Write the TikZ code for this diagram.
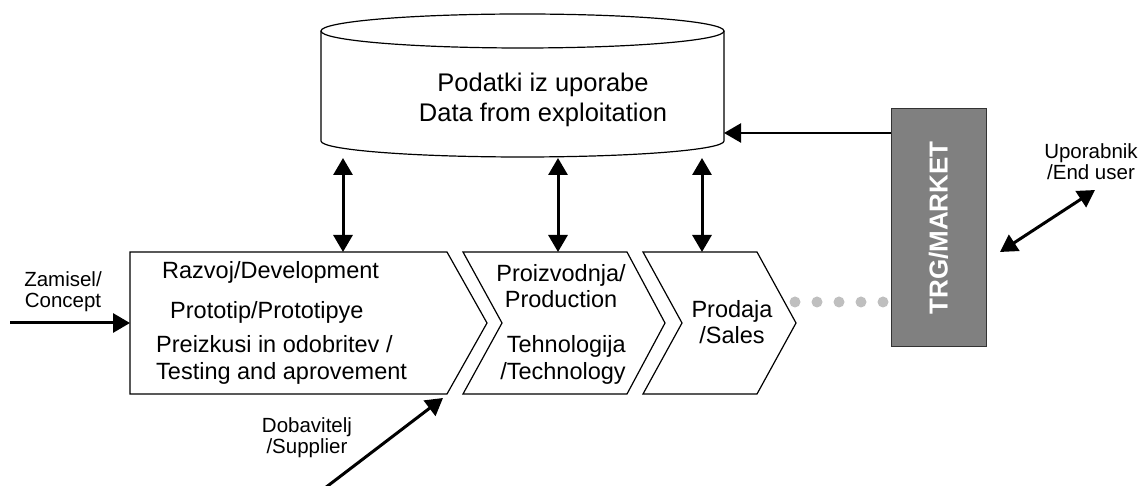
\documentclass[tikz,border=0pt]{standalone}
\usepackage{fontspec}
\setmainfont{Liberation Sans}
\usetikzlibrary{arrows.meta}
\tikzset{stage/.style={draw=black,line width=1.2pt,fill=white},
	big/.style={font=\fontsize{25.5}{30}\selectfont,align=center,inner sep=0pt},
	txt/.style={font=\fontsize{23.5}{26.5}\selectfont,align=center,inner sep=0pt},
	small/.style={font=\fontsize{20.5}{21}\selectfont,align=center,inner sep=0pt},
	market/.style={draw=black!80,line width=1pt,fill=black!50,minimum width=95pt,minimum height=238pt,inner sep=0pt},
	tip/.style={Triangle[length=17pt,width=19pt]},
	flow/.style={line width=3pt,-{Triangle[length=17pt,width=19pt]}},
	both/.style={line width=3pt,{Triangle[length=17pt,width=19pt]}-{Triangle[length=17pt,width=19pt]}},
	dotline/.style={line width=11pt,black!25,line cap=round,dash pattern=on 0pt off 22pt}}

\begin{document}
\begin{tikzpicture}
	[x=1pt,y=1pt]
	\useasboundingbox (0,0) rectangle (1142,486);

	% database
	\draw[stage] (321,455) -- (321,345)
		arc[start angle=180,end angle=360,x radius=201.5,y radius=16] -- (724,455);
	\draw[stage] (522.5,455) ellipse[x radius=201.5,y radius=17];
	\node[big] (data) at (543,386) {Podatki iz uporabe\\Data from exploitation};

	% process chain
	\draw[stage] (130,234) coordinate (devNW) -- (447,234) -- (487,163)
		-- (447,92) coordinate (devSE) -- (130,92) -- cycle;
	\draw[stage] (463,234) coordinate (prodNW) -- (627,234) -- (665,163)
		-- (627,92) -- (463,92) -- (502,163) -- cycle;
	\draw[stage] (643,234) coordinate (salesNW) -- (757,234) -- (796,163)
		-- (757,92) -- (643,92) -- (682,163) -- cycle;
	\coordinate (devW) at (130,163);

	\node[txt,anchor=west] (dev) at (162,214) {Razvoj/Development};
	\node[txt,anchor=west] (proto) at (170,174) {Prototip/Prototipye};
	\node[txt,anchor=west,align=left] (test) at (156,126) {Preizkusi in odobritev /\\Testing and aprovement};
	\node[txt] (prod) at (561,200) {Proizvodnja/\\Production};
	\node[txt] (tech) at (563,126) {\ Tehnologija\\/Technology};
	\node[txt] (sales) at (732,164) {Prodaja\\/Sales};

	% market
	\node[market] (market) at (938.5,258) {};
	\node[rotate=90,text=white,font=\fontsize{26}{30}\selectfont\bfseries] (mlabel) at (market) {TRG/MARKET};

	% connectors
	\coordinate (d1) at (343,328);
	\coordinate (d2) at (558,328);
	\coordinate (d3) at (702,328);
	\draw[both] (d1) -- (d1 |- devNW);
	\draw[both] (d2) -- (d2 |- prodNW);
	\draw[both] (d3) -- (d3 |- salesNW);

	\coordinate (dataE) at (724,353);
	\draw[flow,line width=2.4pt] (market.west |- dataE) -- (dataE);

	\coordinate (dotstart) at (795,184);
	\draw[dotline] (dotstart) -- (dotstart -| market.west);

	\coordinate (concept) at (10,163);
	\draw[flow] (concept) -- (devW);
	\node[small] (conlbl) at (63,194) {Zamisel/\\Concept};

	\coordinate (supplier) at (325,-2);
	\coordinate (supin) at (443,88);
	\draw[flow] (supplier) -- (supin);
	\node[small] (suplbl) at (307,48) {Dobavitelj\\/Supplier};

	\coordinate (user) at (1095,296);
	\coordinate (mkte) at (1000,234);
	\draw[both] (mkte) -- (user);
	\node[small] (userlbl) at (1091,324) {Uporabnik\\/End user};
\end{tikzpicture}
\end{document}
